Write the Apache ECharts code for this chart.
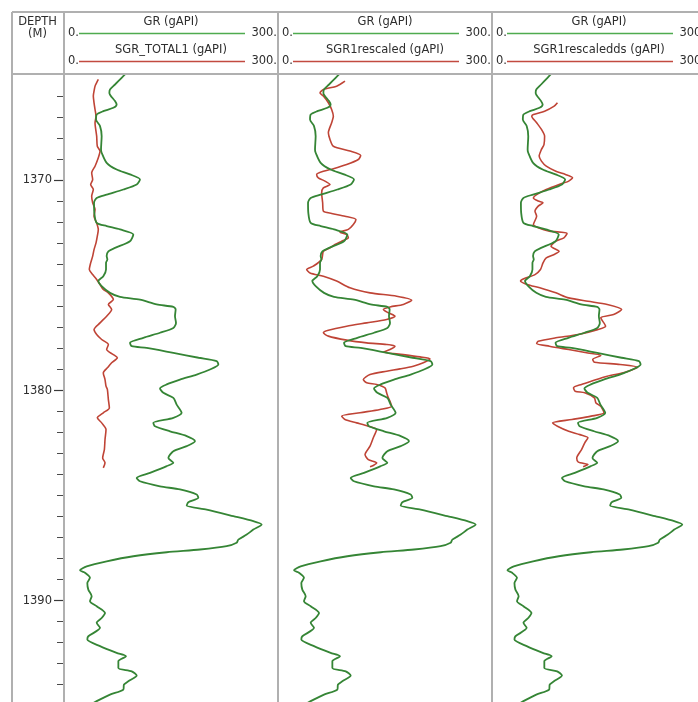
<!DOCTYPE html>
<html>
<head>
<meta charset="utf-8">
<script src="https://cdn.jsdelivr.net/npm/echarts@6/dist/echarts.min.js"></script>
<style>
html,body{margin:0;padding:0;background:#fff;}
#chart{width:698px;height:702px;}
</style>
</head>
<body>
<div id="chart"></div>
<script>
// ---------- data ----------
var depthMajorTicks = [1370, 1380, 1390];
var depthMinorTicks = [1366,1367,1368,1369,1371,1372,1373,1374,1375,1376,1377,1378,1379,1381,1382,1383,1384,1385,1386,1387,1388,1389,1391,1392,1393,1394];
var depthMin = 1364.93;
var depthMax = 1394.83;
var scaleMin = 0, scaleMax = 300;

var trackTitlesTop = ['GR (gAPI)', 'GR (gAPI)', 'GR (gAPI)'];
var trackTitlesBottom = ['SGR_TOTAL1 (gAPI)', 'SGR1rescaled (gAPI)', 'SGR1rescaledds (gAPI)'];

var grDepth = [1364.87,1365.11,1365.43,1365.67,1365.83,1366.22,1366.38,1366.54,1366.70,1366.86,1367.10,1367.41,1367.89,1368.52,1368.68,1369.16,1369.48,1369.71,1369.95,1370.19,1370.43,1370.67,1370.83,1371.06,1371.54,1372.02,1372.17,1372.33,1372.57,1372.89,1373.21,1373.37,1373.60,1373.76,1373.92,1374.24,1374.56,1374.79,1375.03,1375.35,1375.54,1375.67,1375.90,1376.02,1376.14,1376.46,1376.78,1377.02,1377.25,1377.49,1377.73,1377.89,1377.97,1378.21,1378.44,1378.60,1378.76,1379.00,1379.24,1379.48,1379.71,1379.90,1380.11,1380.35,1380.67,1381.06,1381.30,1381.54,1381.70,1381.94,1382.17,1382.41,1382.65,1382.89,1383.21,1383.44,1383.60,1383.92,1384.16,1384.32,1384.56,1384.71,1384.95,1385.11,1385.32,1385.48,1385.67,1385.98,1386.22,1386.38,1386.62,1386.86,1387.10,1387.25,1387.41,1387.57,1387.70,1387.89,1388.13,1388.37,1388.56,1388.68,1388.92,1389.16,1389.48,1389.79,1390.03,1390.27,1390.59,1390.83,1391.06,1391.30,1391.70,1391.86,1392.17,1392.49,1392.65,1392.89,1393.21,1393.37,1393.57,1393.84,1394.00,1394.24,1394.48,1394.79,1395.00];
var grValue = [87.9,80.8,71.5,64.5,63.6,71.5,73.8,69.2,55.1,45.8,44.9,50.5,52.8,51.9,52.8,59.8,73.8,92.5,106.5,101.9,83.2,59.8,45.8,42.1,42.5,45.8,59.8,78.5,97.2,92.5,71.5,62.2,59.8,60.8,58.9,58.9,55.1,48.1,52.8,64.5,78.5,106.5,129.9,153.3,156.5,155.6,157.0,153.3,134.6,111.2,92.5,94.9,115.9,153.3,188.7,214.0,216.4,204.7,186.0,162.6,144.0,134.6,139.3,153.3,157.9,164.9,153.3,125.2,127.6,148.6,172.0,183.6,172.0,153.3,146.3,153.3,144.0,120.6,101.9,106.5,134.6,162.6,186.0,188.3,174.3,172.0,200.0,237.4,265.4,277.1,265.4,256.1,244.4,242.0,228.0,190.7,144.0,97.2,59.8,31.8,22.4,29.4,36.4,32.7,34.1,38.8,36.4,45.8,57.5,52.8,45.8,50.5,34.1,32.7,50.5,73.8,86.9,76.2,76.2,94.9,101.9,90.2,84.1,83.2,64.5,45.8,35.0];

var sgrTotal1Depth = [1365.19,1365.51,1365.67,1365.98,1366.30,1366.62,1366.94,1367.25,1367.89,1368.37,1368.60,1368.92,1369.32,1369.63,1369.95,1370.19,1370.43,1370.75,1371.06,1371.38,1371.70,1372.02,1372.33,1372.65,1372.97,1373.29,1373.60,1373.92,1374.24,1374.48,1374.71,1374.95,1375.19,1375.35,1375.67,1375.90,1376.14,1376.46,1376.78,1377.10,1377.33,1377.57,1377.81,1378.05,1378.29,1378.44,1378.68,1378.92,1379.16,1379.48,1379.79,1379.95,1380.43,1380.83,1381.06,1381.30,1381.54,1381.86,1382.33,1382.81,1383.21,1383.44,1383.68];
var sgrTotal1Value = [48.1,43.5,42.5,41.1,42.1,43.5,44.9,43.5,45.8,46.7,50.5,48.1,43.5,38.8,40.2,37.4,41.1,38.8,40.2,43.5,42.1,45.8,48.1,46.7,44.9,42.1,40.2,37.4,35.5,40.2,45.8,50.5,55.1,62.2,69.2,62.2,66.8,59.8,50.5,42.1,45.8,52.8,62.2,59.8,69.2,74.8,66.8,60.8,55.1,57.5,58.9,60.8,62.2,63.6,55.1,46.7,52.8,58.9,57.5,56.6,54.2,57.5,55.1];

var sgr1RescaledDepth = [1365.27,1365.51,1365.67,1365.83,1365.98,1366.30,1366.62,1366.94,1367.25,1367.73,1368.05,1368.37,1368.60,1368.81,1369.00,1369.24,1369.44,1369.56,1369.71,1369.87,1370.03,1370.19,1370.35,1370.59,1371.06,1371.46,1371.57,1371.70,1371.86,1372.10,1372.33,1372.46,1372.57,1372.73,1372.89,1373.05,1373.21,1373.37,1373.76,1374.08,1374.24,1374.40,1374.56,1374.79,1375.11,1375.35,1375.51,1375.70,1375.90,1376.02,1376.14,1376.30,1376.46,1376.62,1376.78,1376.94,1377.13,1377.25,1377.41,1377.60,1377.73,1377.81,1377.89,1378.05,1378.17,1378.29,1378.40,1378.49,1378.68,1378.84,1378.97,1379.08,1379.24,1379.48,1379.63,1379.71,1379.87,1380.11,1380.35,1380.51,1380.75,1380.90,1381.06,1381.22,1381.38,1381.54,1381.70,1381.86,1382.25,1382.65,1383.05,1383.29,1383.44,1383.57,1383.63];
var sgr1RescaledValue = [93.9,82.2,63.6,58.9,63.6,70.6,75.2,77.6,75.2,70.6,72.9,77.6,100.9,115.9,112.6,96.3,77.6,63.6,54.2,56.5,65.9,72.9,63.6,61.2,62.6,63.6,75.2,93.9,109.3,105.6,98.6,86.9,96.3,98.6,89.3,79.9,72.9,63.6,61.2,49.5,40.2,44.9,63.6,82.2,100.9,129.0,166.4,187.4,175.7,157.0,147.7,154.7,164.0,152.3,124.3,96.3,70.6,63.6,70.6,96.3,124.3,152.3,164.0,157.0,147.7,175.7,199.1,213.1,203.7,189.7,171.0,152.3,129.0,119.6,124.3,138.3,150.0,152.3,154.7,157.0,159.3,143.0,115.0,89.3,93.9,110.3,126.6,138.3,133.6,129.0,122.0,126.6,138.3,133.6,129.0];

var sgr1RescaledDsDepth = [1366.30,1366.46,1366.70,1366.86,1366.94,1367.25,1367.57,1367.89,1368.29,1368.52,1368.84,1369.08,1369.32,1369.56,1369.71,1369.87,1370.03,1370.19,1370.43,1370.67,1370.83,1370.98,1371.06,1371.22,1371.46,1371.70,1372.10,1372.25,1372.41,1372.52,1372.73,1372.89,1373.13,1373.37,1373.52,1373.68,1373.92,1374.24,1374.48,1374.68,1374.79,1374.95,1375.11,1375.35,1375.59,1375.75,1375.90,1376.14,1376.38,1376.54,1376.94,1377.10,1377.33,1377.49,1377.65,1377.76,1377.89,1378.05,1378.21,1378.33,1378.52,1378.65,1378.76,1378.89,1379.00,1379.16,1379.32,1379.56,1379.71,1379.87,1380.03,1380.11,1380.35,1380.59,1380.75,1381.06,1381.22,1381.38,1381.54,1381.70,1381.94,1382.10,1382.25,1382.49,1382.81,1383.21,1383.41,1383.52,1383.63];
var sgr1RescaledDsValue = [95.3,90.6,76.6,60.3,57.9,65.0,72.0,76.6,75.7,72.0,68.7,72.0,79.0,93.0,107.0,117.3,111.7,97.7,79.0,65.0,60.3,67.3,74.3,67.3,62.6,65.0,60.3,67.3,83.6,109.3,104.7,93.0,86.0,97.7,90.6,79.0,74.3,70.6,62.6,46.3,41.6,51.0,69.6,93.0,111.7,139.7,167.8,188.8,177.1,158.4,165.4,153.7,125.7,93.0,67.3,65.0,83.6,111.7,139.7,158.4,146.7,149.1,186.5,212.2,205.1,191.1,167.8,144.4,130.4,118.7,121.0,135.1,149.1,151.4,158.4,163.1,144.4,116.4,88.3,95.3,111.7,128.0,139.7,135.1,130.4,123.4,125.7,139.7,132.7];

// ---------- layout / style ----------
var GREEN = '#358535', RED = '#bf4436';
var HDR_GREEN = '#4fab4f', HDR_RED = '#c24a40';
var BORDER = '#b0b0b0', TEXT = '#2e2e2e';
var FONT = '"DejaVu Sans", Verdana, sans-serif';
var FS = '11.5px ';
var outerLeft = 12, outerTop = 12, depthRight = 64, headerBottom = 74, trackW = 214, H = 702;
var trackLefts = [64, 278, 492];

function pairs(d, v) { return d.map(function (x, i) { return [v[i], x]; }); }

var redCurves = [
  pairs(sgrTotal1Depth, sgrTotal1Value),
  pairs(sgr1RescaledDepth, sgr1RescaledValue),
  pairs(sgr1RescaledDsDepth, sgr1RescaledDsValue)
];
var grCurve = pairs(grDepth, grValue);

function txt(x, y, s, align) {
  return { type: 'text', x: x, y: y, z: 50, style: { text: s, fill: TEXT, font: FS + FONT, textAlign: align || 'center', textVerticalAlign: 'middle' } };
}

var grids = [], xAxes = [], yAxes = [], series = [], graphics = [];
trackLefts.forEach(function (L, i) {
  grids.push({ left: L, top: headerBottom, width: trackW, height: H - headerBottom, show: false });
  xAxes.push({ type: 'value', gridIndex: i, min: scaleMin, max: scaleMax, show: false });
  yAxes.push({
    type: 'value', gridIndex: i, inverse: true, min: depthMin, max: depthMax,
    show: i === 0, position: 'left',
    axisLine: { show: false },
    splitLine: { show: false },
    axisTick: { show: true, customValues: depthMajorTicks, length: 10, lineStyle: { color: '#3a3a3a', width: 1.2 } },
    axisLabel: { show: true, customValues: depthMajorTicks, margin: 12, fontSize: 11.5, color: TEXT, fontFamily: FONT, formatter: function (v) { return String(v); } }
  });
  series.push({
    type: 'line', xAxisIndex: i, yAxisIndex: i, data: grCurve, showSymbol: false, smooth: 0.25,
    lineStyle: { color: GREEN, width: 1.8 }, clip: true, animation: false, z: 3
  });
  series.push({
    type: 'line', xAxisIndex: i, yAxisIndex: i, data: redCurves[i], showSymbol: false, smooth: 0.25,
    lineStyle: { color: RED, width: 1.6 }, clip: true, animation: false, z: 2
  });

  var cx = L + trackW / 2;
  graphics.push(txt(cx, 22.5, trackTitlesTop[i]));
  graphics.push(txt(cx, 50.5, trackTitlesBottom[i]));
  [[33, HDR_GREEN], [61, HDR_RED]].forEach(function (r) {
    graphics.push(txt(L + 4, r[0], '0.', 'left'));
    graphics.push(txt(L + trackW - 1, r[0], '300.', 'right'));
    graphics.push({ type: 'line', z: 50, shape: { x1: L + 15, y1: r[0] + 0.5, x2: L + trackW - 33, y2: r[0] + 0.5 }, style: { stroke: r[1], lineWidth: 1.3 } });
  });
});

// minor depth ticks
grids.push({ left: 64, top: headerBottom, width: trackW, height: H - headerBottom, show: false });
xAxes.push({ type: 'value', gridIndex: 3, min: scaleMin, max: scaleMax, show: false });
yAxes.push({
  type: 'value', gridIndex: 3, inverse: true, min: depthMin, max: depthMax, position: 'left',
  axisLine: { show: false }, splitLine: { show: false },
  axisTick: { show: true, customValues: depthMinorTicks, length: 7, lineStyle: { color: '#4a4a4a', width: 1 } },
  axisLabel: { show: false }
});

// depth header
graphics.push(txt(37.5, 22.5, 'DEPTH'));
graphics.push(txt(37.5, 34.5, '(M)'));

// borders
var bs = { stroke: BORDER, lineWidth: 2 };
graphics.push({ type: 'line', z: 100, shape: { x1: outerLeft, y1: outerTop, x2: 710, y2: outerTop }, style: bs });
graphics.push({ type: 'line', z: 100, shape: { x1: outerLeft, y1: headerBottom, x2: 710, y2: headerBottom }, style: bs });
[outerLeft, depthRight, 278, 492, 706].forEach(function (x) {
  graphics.push({ type: 'line', z: 100, shape: { x1: x, y1: outerTop, x2: x, y2: H + 5 }, style: bs });
});

var chart = echarts.init(document.getElementById('chart'), null, { renderer: 'canvas' });
chart.setOption({
  animation: false,
  backgroundColor: '#fff',
  grid: grids, xAxis: xAxes, yAxis: yAxes, series: series,
  graphic: graphics
});
</script>
</body>
</html>
